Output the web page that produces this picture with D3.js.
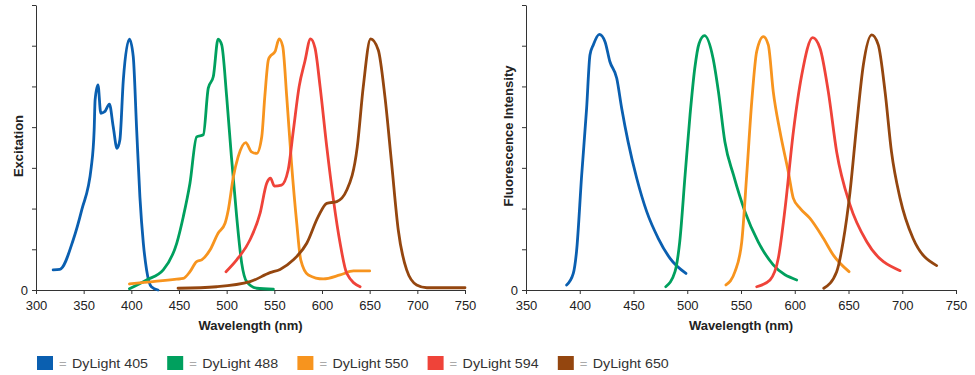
<!DOCTYPE html>
<html>
<head>
<meta charset="utf-8">
<script src="https://cdn.jsdelivr.net/npm/d3@7"></script>
<style>
  body { margin: 0; background: #fff; }
  svg { display: block; font-family: "Liberation Sans", Arial, sans-serif; }
</style>
</head>
<body>
<div id="chart"></div>
<script>
// [wavelength nm, relative intensity %]
const ex405 = [[318,8],[325,8.2],[339,19.9],[348,31.9],[358,49],[361,63.7],[362,75.7],[365,81.7],[368,70.4],[372,71],[377,74],[381,65],[385,56.4],[388,59.8],[391.6,83.7],[398,99.9],[402,93],[405.6,63.7],[409,37],[412.6,18.6],[416,8],[421,1.3],[428,0]];
const ex488 = [[398,0.5],[416,4],[433.5,8],[447.6,18.6],[454.5,29.2],[461.5,42.5],[468.5,61],[475.5,61.8],[480.7,80.4],[486,85],[491,99.9],[494.8,97.6],[500,77],[505,53],[510.5,29.2],[515.8,10.6],[521,3.3],[531.5,0.7],[549,0.3]];
const ex550 = [[398,2.4],[447.6,4.3],[454.5,4.6],[461.5,7.3],[468.5,11.3],[473.8,12],[482.5,15.9],[491,22.6],[498.3,26.6],[501.7,31.9],[507,45],[512,53],[520,58.7],[526,55],[531.5,54.4],[536.8,61],[540,77],[543.7,91.6],[545.5,93],[550.8,95],[555,100],[558.8,97],[563,77],[568,50.5],[573.5,26.6],[577.7,12],[585.7,6],[601.4,4.4],[619,6],[633,7.6],[650,7.6]];
const ex594 = [[499.3,7.3],[510.5,12],[524.5,20],[535,30.5],[542,42.5],[546,44.5],[550,41.4],[557.5,41.8],[564.5,47.8],[570,63.7],[576,81],[582,91],[588,100],[592.7,96.3],[598,81],[605,57],[612,35.9],[619,18.6],[626,6.6],[640,1.3]];
const ex650 = [[449,0.7],[489.5,1.3],[524.5,3.3],[545.5,6.9],[556,8.2],[570,12],[584,18.6],[596,29.2],[605,34.5],[615.5,35.2],[626,39.8],[637,57],[643.3,81],[651,100],[659,95.6],[666,77],[673,50.5],[680,23.9],[688.8,8],[699.3,2],[710,0.9],[750,0.9]];

const em405 = [[387.8,2],[394,6.6],[397,15.3],[401.8,45.8],[406.4,72.4],[409.5,93.6],[412.6,97.6],[418.2,101.8],[423.5,98.9],[428,91],[434.4,84.3],[439,72.4],[445,59],[453,44.5],[462.3,31.2],[473,20.6],[484,12.6],[498.8,6.6]];
const em488 = [[480,1.3],[488.6,7.3],[493,19.2],[498,45.8],[502.6,69.7],[507,88.3],[511,98.2],[516,101.3],[524,92.3],[529,79],[535,59],[543,45.8],[553.7,31.2],[566,19.2],[580,10],[601.8,4]];
const em550 = [[536,2],[544.4,7.3],[550.7,19.2],[555.3,45.8],[560,75],[564.6,95],[570.8,100.9],[575.4,97.6],[580,79],[586.3,63],[594,47.1],[598.7,36.5],[605,32.5],[614,28.6],[626.6,20.6],[635.9,13.9],[650.5,7.3]];
const em594 = [[564.6,1.3],[577,4],[584.7,12.6],[591,32.5],[598.7,63],[606.5,85.6],[616.7,100.5],[623.5,96.3],[631.2,79],[639,55],[651.4,33.9],[667,19.2],[698,7.7]];
const em650 = [[627,0.7],[639,7.3],[645,19.2],[651.4,39],[657.6,65.7],[663.8,89.6],[671.6,101.6],[677.7,97.6],[684,79],[690,55],[698,36.5],[710,20.6],[732,9.7]];

const dyes = ["DyLight 405", "DyLight 488", "DyLight 550", "DyLight 594", "DyLight 650"];
const colors = ["#0a5fb0", "#00a05e", "#f7941e", "#ef4339", "#94460f"];

const exTicks = [300, 350, 400, 450, 500, 550, 600, 650, 700, 750];
const emTicks = [350, 400, 450, 500, 550, 600, 650, 700, 750];
const yMax = 113.5;
const yTicks = d3.range(8).map(i => i * yMax / 7);

const svgWidth = 975;
const svgHeight = 375;

const svg = d3.select("#chart")
    .append("svg")
    .attr("width", svgWidth)
    .attr("height", svgHeight);

const yScale = d3.scaleLinear()
    .domain([0, yMax])
    .range([290, 5]);

function drawPanel(series, ticks, xRange, title, titleX, titleY) {
    const xScale = d3.scaleLinear()
        .domain([ticks[0], ticks[ticks.length - 1]])
        .range(xRange);

    const xAxis = svg.append("g")
        .attr("transform", "translate(0,290)")
        .call(d3.axisBottom(xScale).tickValues(ticks).tickSize(4).tickSizeOuter(0).tickFormat(d3.format("d")));

    const yAxis = svg.append("g")
        .attr("transform", `translate(${xRange[0]},0)`)
        .call(d3.axisLeft(yScale).tickValues(yTicks).tickSize(4).tickSizeOuter(0)
            .tickFormat(d => d === 0 ? "0" : ""));

    [xAxis, yAxis].forEach(ax => {
        ax.select(".domain").attr("stroke", "#333");
        ax.selectAll(".tick line").attr("stroke", "#333");
        ax.selectAll(".tick text")
            .attr("fill", "#222")
            .style("font-size", "13px")
            .style("font-family", "'Liberation Sans', Arial, sans-serif");
    });
    xAxis.selectAll(".tick text").attr("y", 11);
    yAxis.selectAll(".tick text").attr("x", -8);

    const line = d3.line()
        .x(d => xScale(d[0]))
        .y(d => yScale(d[1]))
        .curve(d3.curveMonotoneX);

    series.forEach((s, i) => {
        svg.append("path")
            .datum(s)
            .attr("fill", "none")
            .attr("stroke", colors[i])
            .attr("stroke-width", 2.8)
            .attr("stroke-linecap", "round")
            .attr("stroke-linejoin", "round")
            .attr("d", line);
    });

    svg.append("text")
        .attr("x", (xRange[0] + xRange[1]) / 2)
        .attr("y", 330)
        .attr("text-anchor", "middle")
        .style("font-size", "13px")
        .style("font-weight", "bold")
        .attr("fill", "#222")
        .text("Wavelength (nm)");

    svg.append("text")
        .attr("transform", `translate(${titleX},${titleY}) rotate(-90)`)
        .attr("text-anchor", "middle")
        .style("font-size", "13px")
        .style("font-weight", "bold")
        .attr("fill", "#222")
        .text(title);
}

drawPanel([ex405, ex488, ex550, ex594, ex650], exTicks, [36, 465], "Excitation", 23, 146);
drawPanel([em405, em488, em550, em594, em650], emTicks, [526, 956], "Fluorescence Intensity", 513, 136);

// legend
const legend = svg.append("g")
    .selectAll("g")
    .data(dyes)
    .enter()
    .append("g")
    .attr("transform", (d, i) => `translate(${37 + i * 130.2},356)`);

legend.append("rect")
    .attr("width", 16)
    .attr("height", 14)
    .attr("fill", (d, i) => colors[i]);

legend.append("text")
    .attr("x", 22)
    .attr("y", 12)
    .attr("fill", "#aaa")
    .style("font-size", "13px")
    .text("=");

legend.append("text")
    .attr("x", 35)
    .attr("y", 12)
    .attr("fill", "#333")
    .attr("textLength", 76)
    .attr("lengthAdjust", "spacingAndGlyphs")
    .style("font-size", "13px")
    .text(d => d);
</script>
</body>
</html>
